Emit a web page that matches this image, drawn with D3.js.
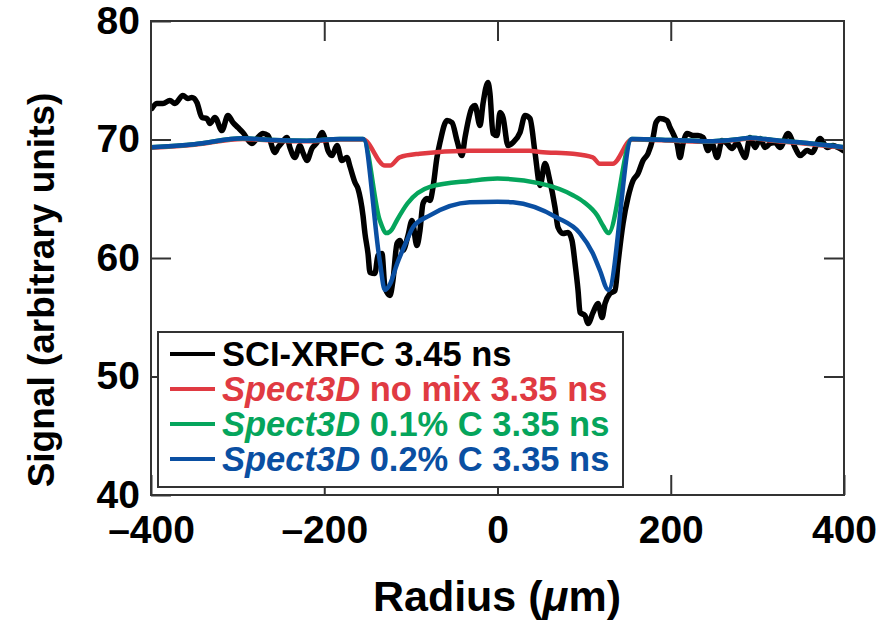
<!DOCTYPE html>
<meta charset="utf-8">
<style>
html, body {
  margin: 0;
  background: #fff;
}
svg text {
  font-family: "Liberation Sans", Arial, Helvetica, sans-serif;
  font-weight: bold;
}
</style>
<svg width="890" height="623"></svg>
<script src="https://d3js.org/d3.v7.min.js"></script>
<script>
// measured signal (SCI-XRFC)
const xrfcR = [-399, -393.2, -386.2, -378.2, -372.4, -363.2, -357.4, -352.8, -347, -341.2, -335.4, -332, -326.2, -318.1,
  -311.2, -305.4, -299.6, -293.9, -283.5, -277.7, -270.8, -265, -256.9, -253.5, -248.8, -243.1, -239.6, -233.8,
  -228.1, -224.6, -220, -214.2, -208.4, -202.6, -199.2, -195.7, -191.1, -185.3, -179.6, -173.8, -170.3, -164.5,
  -161.1, -155.3, -153, -149.5, -147.2, -141.5, -138, -133.4, -129.9, -124.1, -120.7, -116, -112.6, -109.1,
  -103.3, -98.7, -93, -89.5, -86, -81.4, -77.9, -74.5, -69.9, -66.4, -58.3, -52.5, -46.8, -41, -37.5, -29.4,
  -26, -20.2, -16.7, -11, -8.7, -5.2, -0.6, 2.9, 6.4, 12.1, 17.9, 26, 31.8, 37.5, 43.3, 49.1, 54.8, 60.6,
  66.4, 69.9, 75.6, 81.4, 86, 89.5, 93, 95.3, 101, 104.5, 110.3, 116, 120.7, 124.1, 129.9, 135.7, 139.1,
  144.9, 150.7, 156.5, 162.2, 168, 173.8, 179.6, 183, 187.6, 195.7, 199.2, 202.6, 207.3, 210.7, 214.2,
  218.8, 225.7, 231.5, 237.3, 243.1, 247.7, 253.5, 259.2, 265, 270.8, 276.6, 282.3, 285.8, 291.6, 297.3,
  303.1, 308.9, 314.7, 320.4, 326.2, 335.4, 343.5, 349.3, 357.4, 363.2, 372.4, 380.5, 387.4, 393.2, 398.9];
const xrfcV = [72.62, 73.04, 73.04, 73.29, 73.04, 73.71, 73.46, 73.54, 73.12, 71.86, 71.77, 71.35, 71.86, 70.76,
  72.03, 71.43, 71.01, 70.59, 69.66, 70.08, 70.51, 70.34, 68.9, 69.32, 69.75, 70.17, 69.32, 68.48,
  69.49, 68.9, 68.23, 69.24, 69.75, 70.59, 70.08, 69.07, 68.65, 69.49, 68.23, 68.48, 67.72, 66.37,
  65.86, 63.59, 62.07, 60.38, 58.78, 58.69, 60.21, 60.38, 57.51, 56.84, 58.1, 61.22, 61.48, 60.63,
  61.9, 63.16, 61.05, 62.32, 64.6, 65.02, 64.85, 65.95, 68.48, 69.75, 71.6, 71.43, 69.92, 68.65, 70.17, 72.7,
  72.87, 71.18, 73.04, 74.81, 73.88, 70.51, 70.34, 72.28, 71.86, 69.49, 69.75, 70.59, 72.03, 71.77, 68.9, 66.12, 67.97, 66.46,
  64.26, 62.57, 62.07, 62.15, 61.48, 59.54, 57.26, 55.4, 55.15, 54.47, 55.4, 56.16, 54.98, 56.16, 57, 57.26, 59.54,
  62.91, 65.11, 66.54, 67.13, 68.23, 68.82, 70.17, 71.43, 71.77, 71.6, 71.01, 70.51, 69.66, 68.48, 69.66,
  70.51, 70.34, 70.34, 70.17, 69.07, 69.66, 68.48, 69.92, 69.66, 69.24, 69.75, 68.9, 68.48, 70.17, 69.32,
  70.08, 69.32, 69.66, 69.75, 69.32, 70.51, 69.32, 68.65, 69.07, 68.9, 70.08, 69.32, 69.49, 69.32, 69.07];

// Spect3D simulations
const noMixR = [-400, -350, -294, -259, -220, -182, -155, -130, -124, -113, -90, -32, 0, 37, 49, 87, 110, 118, 133, 155,
  203, 242, 280, 292, 318, 357, 400];
const noMixV = [69.3, 69.55, 70.05, 69.9, 69.85, 70.0, 70.0, 67.8, 67.8, 68.5, 68.8, 69.05, 69.05, 69.05, 68.95, 68.8, 68.5, 67.95, 67.95, 70.0,
  69.9, 69.8, 70.0, 70.1, 69.9, 69.65, 69.3];

const c01R = [-400, -350, -294, -259, -220, -182, -155, -136, -128, -122, -116, -104, -78, -32, 0, 49, 87, 100, 115, 122, 128, 155,
  203, 242, 280, 292, 318, 357, 400];
const c01V = [69.35, 69.6, 70.1, 69.95, 69.9, 70.05, 70.05, 63.2, 62.1, 62.4, 63.2, 64.6, 66.0, 66.5, 66.7, 66.3, 65.3, 64.7, 63.6, 62.7, 62.1, 70.05,
  69.95, 69.85, 70.05, 70.15, 69.95, 69.7, 69.35];

const c02R = [-400, -350, -294, -259, -220, -182, -155, -136, -130, -124, -116, -104.5, -97.6, -78, -32, 0, 18, 69, 95, 110, 118, 128, 155,
  203, 242, 280, 292, 318, 357, 400];
const c02V = [69.35, 69.6, 70.1, 69.95, 69.9, 70.05, 70.05, 59.8, 57.3, 57.8, 59.5, 61.5, 62.6, 63.6, 64.7, 64.75, 64.7, 63.4, 62.1, 60.4, 59.0, 57.3, 70.05,
  69.95, 69.85, 70.05, 70.15, 69.95, 69.7, 69.35];

const xTicks = [-400, -200, 0, 200, 400];
const yTicks = [40, 50, 60, 70, 80];

const series = [
  { r: xrfcR, v: xrfcV, color: '#000000', width: 5.5, label: [['SCI-XRFC 3.45 ns', 'normal']] },
  { r: noMixR, v: noMixV, color: '#e03a42', width: 4.5, label: [['Spect3D', 'italic'], [' no mix 3.35 ns', 'normal']] },
  { r: c01R, v: c01V, color: '#05a55c', width: 4.5, label: [['Spect3D', 'italic'], [' 0.1% C 3.35 ns', 'normal']] },
  { r: c02R, v: c02V, color: '#0a4fa2', width: 4.5, label: [['Spect3D', 'italic'], [' 0.2% C 3.35 ns', 'normal']] }
];

const svg = d3.select('svg');
const pLeft = 151, pRight = 844, pTop = 21, pBottom = 495;

const x = d3.scaleLinear().domain([-400, 400]).range([pLeft, pRight]);
const y = d3.scaleLinear().domain([40, 80]).range([pBottom, pTop]);

const fmt = d => d < 0 ? '\u2013' + Math.abs(d) : String(d);

svg.append('defs').append('clipPath').attr('id', 'plotclip')
  .append('rect').attr('x', pLeft).attr('y', pTop).attr('width', pRight - pLeft).attr('height', pBottom - pTop);

// curves
const line = d3.line().curve(d3.curveMonotoneX).x(d => x(d[0])).y(d => y(d[1]));
const curves = svg.append('g').attr('clip-path', 'url(#plotclip)');
series.forEach(s => {
  curves.append('path')
    .datum(s.r.map((r, i) => [r, s.v[i]]))
    .attr('fill', 'none')
    .attr('stroke', s.color)
    .attr('stroke-width', s.width)
    .attr('stroke-linejoin', 'round')
    .attr('stroke-linecap', 'round')
    .attr('d', line);
});

// axes with inward ticks
const styleAxis = g => {
  g.select('.domain').remove();
  g.selectAll('.tick line').attr('stroke', '#333').attr('stroke-width', 2);
  g.selectAll('.tick text').attr('fill', '#000').style('font-size', '39px')
    .style('font-family', '"Liberation Sans", Arial, sans-serif').style('font-weight', 'bold');
};

svg.append('g').attr('transform', `translate(0,${pBottom})`)
  .call(d3.axisBottom(x).tickValues(xTicks).tickFormat(fmt).tickSize(-20).tickPadding(20))
  .call(styleAxis);
svg.append('g').attr('transform', `translate(0,${pTop})`)
  .call(d3.axisTop(x).tickValues([-200, 0, 200]).tickFormat('').tickSize(-20))
  .call(styleAxis);
svg.append('g').attr('transform', `translate(${pLeft},0)`)
  .call(d3.axisLeft(y).tickValues(yTicks).tickSize(-20).tickPadding(11))
  .call(styleAxis);
svg.append('g').attr('transform', `translate(${pRight},0)`)
  .call(d3.axisRight(y).tickValues([50, 60, 70]).tickFormat('').tickSize(-20))
  .call(styleAxis);

svg.append('rect')
  .attr('x', pLeft).attr('y', pTop)
  .attr('width', pRight - pLeft).attr('height', pBottom - pTop)
  .attr('fill', 'none').attr('stroke', '#333').attr('stroke-width', 2);

// legend
const legend = svg.append('g');
legend.append('rect')
  .attr('x', 158).attr('y', 332).attr('width', 465).attr('height', 155)
  .attr('fill', '#fff').attr('stroke', '#333').attr('stroke-width', 2);
series.forEach((s, i) => {
  const base = 366 + i * 35;
  legend.append('line')
    .attr('x1', 170).attr('x2', 215)
    .attr('y1', base - 12).attr('y2', base - 12)
    .attr('stroke', s.color).attr('stroke-width', 4);
  const t = legend.append('text')
    .attr('x', 222).attr('y', base)
    .attr('fill', s.color)
    .style('font-size', '34.5px');
  s.label.forEach(([txt, st]) => t.append('tspan').style('font-style', st).text(txt));
});

// axis titles
svg.append('text')
  .attr('x', 497).attr('y', 611)
  .attr('text-anchor', 'middle')
  .style('font-size', '43px')
  .call(t => {
    t.append('tspan').text('Radius (');
    t.append('tspan').style('font-style', 'italic').text('\u03bc');
    t.append('tspan').text('m)');
  });

svg.append('text')
  .attr('transform', 'translate(54,290) rotate(-90)')
  .attr('text-anchor', 'middle')
  .style('font-size', '37px')
  .text('Signal (arbitrary units)');
</script>
